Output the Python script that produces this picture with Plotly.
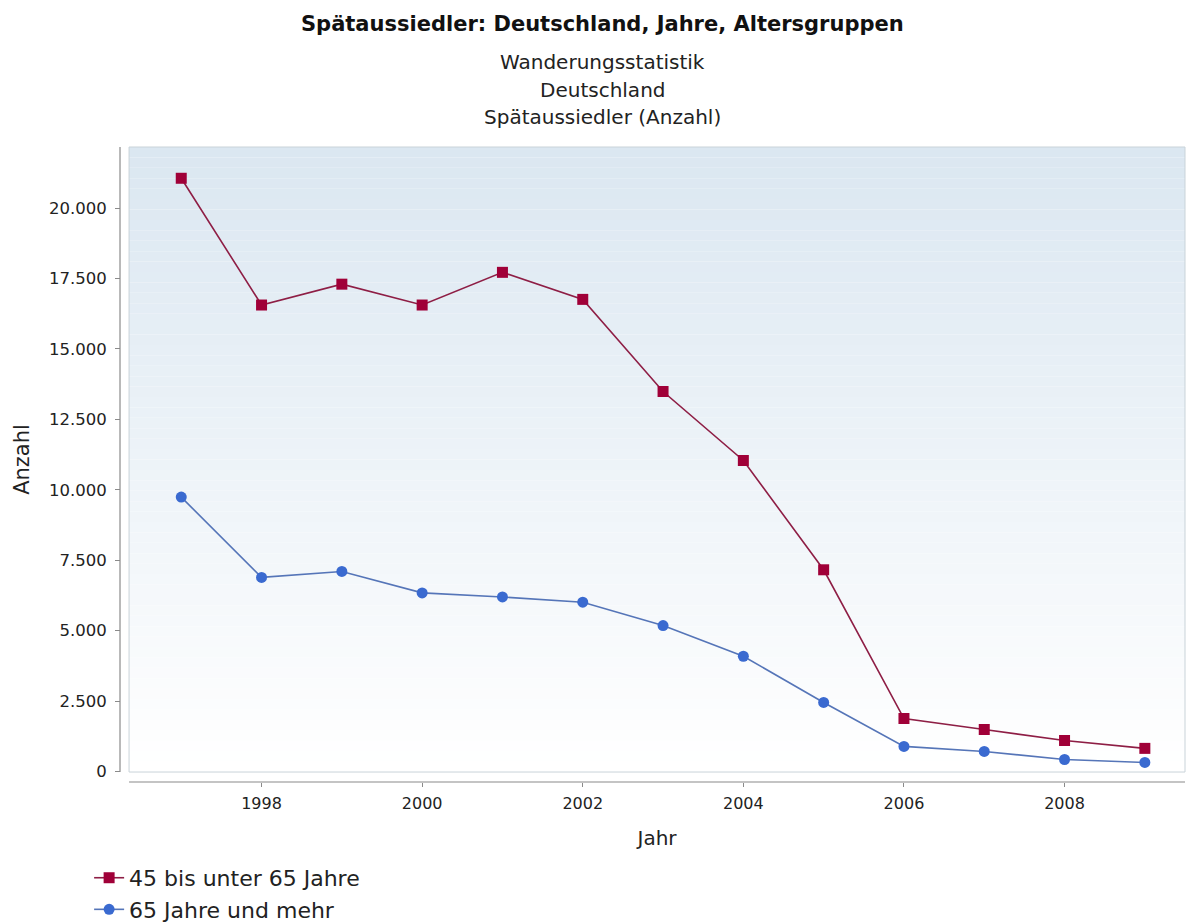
import plotly.graph_objects as go

years = list(range(1997, 2010))
age_45_65 = [21060, 16560, 17300, 16560, 17720, 16760, 13490, 11040, 7160, 1880, 1490, 1100, 820]
age_65_plus = [9740, 6890, 7100, 6340, 6195, 6010, 5180, 4090, 2450, 890, 710, 425, 320]
series_names = ["45 bis unter 65 Jahre", "65 Jahre und mehr"]
y_ticks = [0, 2500, 5000, 7500, 10000, 12500, 15000, 17500, 20000]
x_ticks = [1998, 2000, 2002, 2004, 2006, 2008]
title_text = "Spätaussiedler: Deutschland, Jahre, Altersgruppen"
subtitle_lines = ["Wanderungsstatistik", "Deutschland", "Spätaussiedler (Anzahl)"]

FONT = "DejaVu Sans"

fig = go.Figure()
fig.add_trace(go.Scatter(
    x=years, y=age_45_65, name=series_names[0], mode="lines+markers",
    line=dict(color="#8E1E45", width=1.6),
    marker=dict(symbol="square", size=11, color="#A00038", line=dict(width=0)),
))
fig.add_trace(go.Scatter(
    x=years, y=age_65_plus, name=series_names[1], mode="lines+markers",
    line=dict(color="#5575B8", width=1.6),
    marker=dict(symbol="circle", size=11, color="#3A6AD0", line=dict(width=0)),
))

# gradient background of the plot area (light blue at top to white at bottom)
n = 60
top = (219, 231, 241)
bot = (255, 255, 255)
shapes = []
for i in range(n):
    t = i / (n - 1)
    c = tuple(round(top[k] + (bot[k] - top[k]) * t) for k in range(3))
    shapes.append(dict(type="rect", xref="x domain", yref="y domain",
                       x0=0, x1=1, y0=1 - (i + 1) / n, y1=1 - i / n,
                       fillcolor="rgb(%d,%d,%d)" % c, line=dict(width=0), layer="below"))
shapes.append(dict(type="rect", xref="x domain", yref="y domain", x0=0, x1=1, y0=0, y1=1,
                   line=dict(color="#C9D3D9", width=1), fillcolor="rgba(0,0,0,0)", layer="above"))
shapes.append(dict(type="line", xref="paper", yref="y domain", x0=0, x1=0, y0=0, y1=1,
                   line=dict(color="#8A8A8A", width=1.2)))
shapes.append(dict(type="line", xref="x domain", yref="paper", x0=0, x1=1, y0=0, y1=0,
                   line=dict(color="#8A8A8A", width=1.2)))

annotations = [
    dict(text="<b>%s</b>" % title_text, xref="paper", yref="paper",
         x=0.4535, xanchor="center", y=1.193, yanchor="middle", showarrow=False,
         font=dict(family=FONT, size=21, color="#111111")),
]
for line, ypos in zip(subtitle_lines, [1.1346, 1.0898, 1.048]):
    annotations.append(dict(text=line, xref="paper", yref="paper",
                            x=0.4535, xanchor="center", y=ypos, yanchor="middle", showarrow=False,
                            font=dict(family=FONT, size=20, color="#222222")))

fig.update_layout(
    width=1196, height=924,
    margin=dict(l=120, r=11, t=147, b=142, autoexpand=False),
    paper_bgcolor="white", plot_bgcolor="rgba(0,0,0,0)",
    separators=",.",
    font=dict(family=FONT, color="#222222"),
    shapes=shapes,
    annotations=annotations,
    showlegend=True,
    legend=dict(x=-0.029, y=-0.118, xanchor="left", yanchor="top",
                font=dict(family=FONT, size=22, color="#222222"),
                bgcolor="rgba(0,0,0,0)", tracegroupgap=0, itemwidth=30),
    xaxis=dict(
        domain=[0.0085, 1], anchor="free", position=0,
        range=[1996.35, 2009.5], tickvals=x_ticks, ticktext=[str(v) for v in x_ticks],
        showgrid=False, zeroline=False, showline=False,
        ticks="outside", ticklen=4, tickcolor="#8A8A8A", ticklabelstandoff=3,
        tickfont=dict(family=FONT, size=16, color="#222222"),
        title=dict(text="Jahr", font=dict(family=FONT, size=20, color="#222222"), standoff=18),
    ),
    yaxis=dict(
        domain=[0.0157, 1], anchor="free", position=0,
        range=[-20, 22170], tickvals=y_ticks, tickformat=",.0f",
        showgrid=False, zeroline=False, showline=False,
        ticks="outside", ticklen=5, tickcolor="#8A8A8A", ticklabelstandoff=5,
        tickfont=dict(family=FONT, size=16.5, color="#222222"),
        title=dict(text="Anzahl", font=dict(family=FONT, size=21, color="#222222"), standoff=12),
    ),
)

fig.write_html("out.html")
